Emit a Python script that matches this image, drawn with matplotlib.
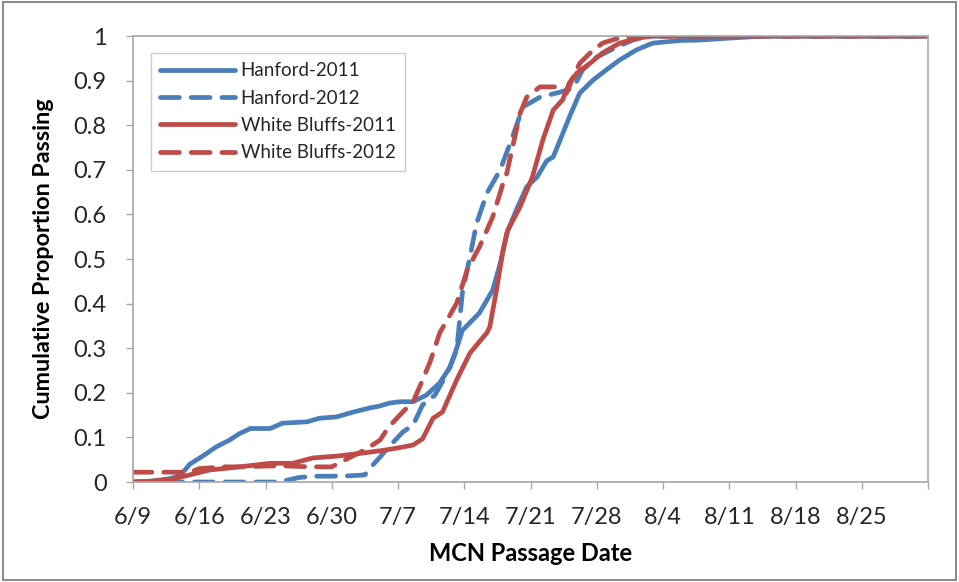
import matplotlib.pyplot as plt
from matplotlib.patches import Rectangle

# days after 6/9 (2011 and 2012 are overlaid on the same calendar axis)
tick_days = [0, 7, 14, 21, 28, 35, 42, 49, 56, 63, 70, 77, 84]
tick_labels = ['6/9', '6/16', '6/23', '6/30', '7/7', '7/14', '7/21', '7/28',
               '8/4', '8/11', '8/18', '8/25', '']

hanford_2011_x = [0, 2, 4, 5, 6, 7.5, 8.8, 10.2, 11.2, 12.4, 14.5, 15.8, 18.4, 19.7,
                  21.5, 23.3, 25, 26, 27.1, 28.2, 29.6, 31, 32.4, 33.5, 34.2, 34.8,
                  36.6, 38, 38.8, 39.5, 40.5, 41.6, 42.7, 43.7, 44.4, 45, 46.1, 47.2,
                  48.6, 50, 51.4, 53.2, 54.9, 57.8, 60, 62.7, 65.2, 67, 84]
hanford_2011_y = [0, 0.002, 0.008, 0.015, 0.04, 0.06, 0.079, 0.094, 0.108, 0.12, 0.12,
                  0.132, 0.135, 0.143, 0.146, 0.157, 0.166, 0.17, 0.177, 0.18, 0.18,
                  0.195, 0.222, 0.258, 0.3, 0.34, 0.379, 0.43, 0.49, 0.558, 0.61,
                  0.662, 0.684, 0.72, 0.729, 0.76, 0.818, 0.872, 0.901, 0.924, 0.946,
                  0.969, 0.984, 0.99, 0.991, 0.995, 0.998, 1.0, 1.0]

hanford_2012_x = [0, 3, 6, 9, 12, 15, 16.5, 17.5, 19, 21, 23, 24.5, 25.2, 26.1, 27,
                  28.5, 29.6, 30.6, 31.9, 33.2, 34.2, 34.8, 35.6, 36.3, 37.4, 38.8,
                  40.1, 41.2, 43, 45.1, 46.5, 47.5, 49, 51.1, 52.8, 54.5, 84]
hanford_2012_y = [0, 0, 0, 0, 0, 0, 0.005, 0.01, 0.013, 0.013, 0.014, 0.016, 0.035,
                  0.056, 0.078, 0.112, 0.128, 0.173, 0.195, 0.244, 0.296, 0.424,
                  0.505, 0.58, 0.648, 0.70, 0.774, 0.841, 0.863, 0.874, 0.883, 0.924,
                  0.953, 0.975, 0.991, 1.0, 1.0]

bluffs_2011_x = [0, 2, 3.9, 6, 8.1, 11.3, 14.5, 16.9, 19, 21.5, 24.3, 26.1, 27.9,
                 29.6, 30.6, 31.7, 32.7, 34.2, 35.6, 37.4, 37.7, 38.4, 39.1, 39.6,
                 40.9, 42.2, 43.3, 44.4, 45.4, 46.1, 46.9, 48.3, 49.6, 51.4, 53.5,
                 55, 84]
bluffs_2011_y = [0, 0.002, 0.005, 0.016, 0.027, 0.034, 0.042, 0.042, 0.054, 0.058,
                 0.065, 0.07, 0.076, 0.083, 0.097, 0.143, 0.157, 0.229, 0.289, 0.335,
                 0.348, 0.43, 0.52, 0.565, 0.617, 0.684, 0.767, 0.834, 0.857, 0.895,
                 0.917, 0.939, 0.962, 0.984, 0.996, 1.0, 1.0]

bluffs_2012_x = [0, 2.3, 4, 6, 7, 9.5, 11, 14.5, 16, 19, 21, 23, 24.5, 26.1, 27,
                 28.5, 29.6, 30.6, 31.4, 32.4, 34.2, 35.3, 36.6, 38, 39.1, 39.5,
                 40.1, 40.9, 41.6, 43, 44.8, 45.8, 46.5, 47.2, 48.3, 49.6, 51.4, 53,
                 84]
bluffs_2012_y = [0.022, 0.022, 0.022, 0.022, 0.03, 0.034, 0.034, 0.036, 0.036, 0.034,
                 0.034, 0.056, 0.072, 0.094, 0.123, 0.157, 0.18, 0.229, 0.27, 0.334,
                 0.401, 0.475, 0.527, 0.594, 0.67, 0.693, 0.751, 0.827, 0.863, 0.886,
                 0.886, 0.872, 0.908, 0.939, 0.962, 0.984, 0.996, 1.0, 1.0]

blue = '#4a7ebb'
red = '#be4b48'
grey = '#a6a6a6'

plt.rcParams['font.family'] = ['Lato', 'DejaVu Sans']

fig = plt.figure(figsize=(9.59, 5.82), dpi=100)
ax = fig.add_axes([0.1387, 0.1718, 0.829, 0.7663])

lw = 3.4
dash = (4, 2.5)
ax.plot(hanford_2011_x, hanford_2011_y, color=blue, lw=lw, label='Hanford-2011',
        solid_capstyle='round')
ax.plot(hanford_2012_x, hanford_2012_y, color=blue, lw=lw, ls=(0, dash),
        label='Hanford-2012', dash_capstyle='round')
ax.plot(bluffs_2011_x, bluffs_2011_y, color=red, lw=lw, label='White Bluffs-2011',
        solid_capstyle='round')
ax.plot(bluffs_2012_x, bluffs_2012_y, color=red, lw=lw, ls=(0, dash),
        label='White Bluffs-2012', dash_capstyle='round')

ax.set_xlim(0, 84)
ax.set_ylim(0, 1)
ax.set_xticks(tick_days)
ax.set_xticklabels(tick_labels)
ax.set_yticks([i / 10 for i in range(11)])
ax.set_yticklabels(['0', '0.1', '0.2', '0.3', '0.4', '0.5', '0.6', '0.7', '0.8',
                    '0.9', '1'])
ax.tick_params(labelsize=17, colors='#262626', length=5, width=1)
ax.tick_params(axis='both', color=grey)
ax.tick_params(axis='x', pad=13)
ax.tick_params(axis='y', pad=14)
for s in ax.spines.values():
    s.set_color(grey)
    s.set_linewidth(1.2)

ax.set_xlabel('MCN Passage Date', fontsize=17, fontweight='bold', labelpad=10)
ax.set_ylabel('Cumulative Proportion Passing', fontsize=16.8, fontweight='bold',
              labelpad=14)

leg = ax.legend(loc='upper left', bbox_to_anchor=(0.022, 0.962), fontsize=13.5,
                frameon=True, fancybox=False, handlelength=4.0, handletextpad=0.3,
                labelspacing=0.55, borderpad=0.5, borderaxespad=0)
leg.get_frame().set_edgecolor('#c0c0c0')
leg.get_frame().set_linewidth(1)
for t in leg.get_texts():
    t.set_color('#262626')

fig.patches.append(Rectangle((0.003, 0.004), 0.994, 0.992, transform=fig.transFigure,
                             fill=False, edgecolor='#8c8c8c', lw=1.5))

fig.savefig('out.png', dpi=100)
